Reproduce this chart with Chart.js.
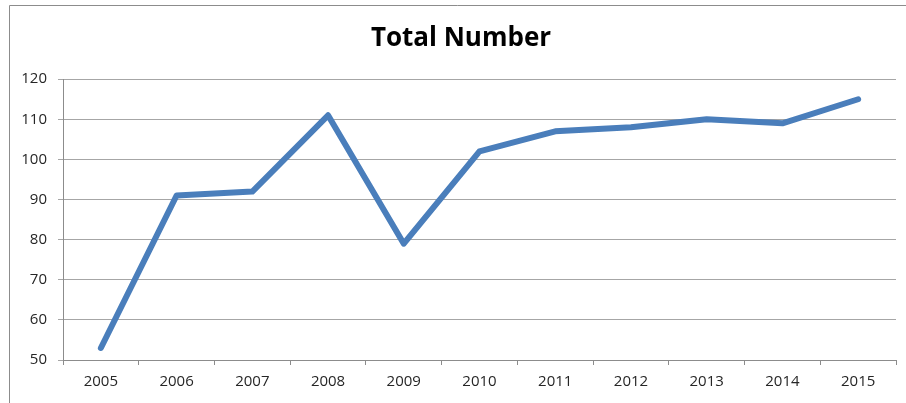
<!DOCTYPE html>
<html>
<head>
<meta charset="utf-8">
<script src="https://cdn.jsdelivr.net/npm/chart.js@4/dist/chart.umd.min.js"></script>
<style>
  html, body { margin: 0; padding: 0; background: #fff; }
  #wrap { width: 906px; height: 403px; }
</style>
</head>
<body>
<div id="wrap"><canvas id="myChart"></canvas></div>
<script>
// data
const years = ["2005", "2006", "2007", "2008", "2009", "2010", "2011", "2012", "2013", "2014", "2015"];
const totals = [53, 91, 92, 111, 79, 102, 107, 108, 110, 109, 115];
const yMin = 50;
const yMax = 120;
const yStep = 10;

// outer frame of the chart box (left and top edges are visible)
// and a small nudge of the title so it centres like the original
const framePlugin = {
  id: "frame",
  afterLayout(chart) {
    const t = chart.titleBlock;
    if (t) {
      t.left += 16;
    }
  },
  beforeDraw(chart) {
    const c = chart.ctx;
    c.save();
    c.fillStyle = "#fff";
    c.fillRect(0, 0, chart.width, chart.height);
    c.strokeStyle = "#8c8c8c";
    c.lineWidth = 1;
    c.beginPath();
    c.moveTo(9.5, chart.height);
    c.lineTo(9.5, 5.5);
    c.lineTo(chart.width, 5.5);
    c.stroke();
    c.restore();
  },
};

const ctx = document.getElementById("myChart");
const myChart = new Chart(ctx, {
  type: "line",
  data: {
    labels: years,
    datasets: [
      {
        label: "Total Number",
        data: totals,
        borderColor: "#4a7ebb",
        backgroundColor: "#4a7ebb",
        borderWidth: 6,
        pointRadius: 0,
        borderCapStyle: "round",
        borderJoinStyle: "round",
        tension: 0,
      },
    ],
  },
  options: {
    responsive: true,
    maintainAspectRatio: false,
    animation: false,
    layout: { padding: { left: 10, right: 10, top: 0, bottom: 0 } },
    plugins: {
      legend: { display: false },
      tooltip: { enabled: false },
      title: {
        display: true,
        text: "Total Number",
        color: "#000",
        font: { family: "'Open Sans', sans-serif", size: 26, weight: "bold", lineHeight: 1.2 },
        padding: { top: 23, bottom: 25 },
      },
    },
    scales: {
      x: {
        offset: true,
        grid: {
          offset: true,
          drawOnChartArea: false,
          drawTicks: true,
          tickLength: 5,
          color: "#8c8c8c",
        },
        border: { display: true, color: "#8c8c8c" },
        ticks: {
          color: "#262626",
          padding: 8,
          maxRotation: 0,
          font: { family: "'Open Sans', sans-serif", size: 15 },
        },
        afterFit(scale) {
          scale.height = 43;
        },
      },
      y: {
        min: yMin,
        max: yMax,
        grid: {
          color: "#a6a6a6",
          drawTicks: true,
          tickLength: 5,
        },
        border: { display: true, color: "#8c8c8c" },
        ticks: {
          stepSize: yStep,
          color: "#262626",
          padding: 11,
          font: { family: "'Open Sans', sans-serif", size: 15 },
        },
        afterFit(scale) {
          scale.width = 53;
        },
      },
    },
  },
  plugins: [framePlugin],
});
</script>
</body>
</html>
